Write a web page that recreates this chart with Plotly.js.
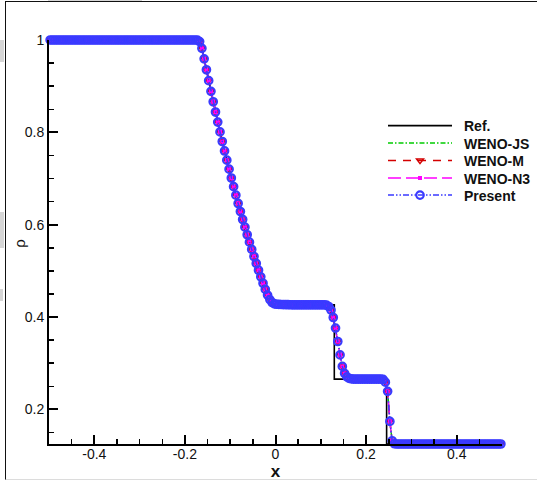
<!DOCTYPE html>
<html>
<head>
<meta charset="utf-8">
<script src="https://cdn.plot.ly/plotly-3.0.1.min.js"></script>
<style>
  html, body { margin: 0; padding: 0; background: #fff; }
  #wrap { position: relative; width: 537px; height: 481px; overflow: hidden; background: #fff; }
  #frame { position: absolute; left: 5px; top: 1px; width: 540px; height: 477px;
           border-left: 1.5px solid #111; border-top: 1.5px solid #111; border-bottom: 1px solid #dcdcdc; }
  .blot { position: absolute; background: #d6d6d6; }
  #chart { position: absolute; left: 0; top: 0; width: 537px; height: 481px; }
</style>
</head>
<body>
<div id="wrap">
  <div id="frame"></div>
  <div class="blot" style="left:0;top:40px;width:4px;height:22px;"></div>
  <div class="blot" style="left:0;top:212px;width:4px;height:36px;"></div>
  <div class="blot" style="left:0;top:289px;width:3px;height:12px;"></div>
  <div class="blot" style="left:48px;top:0;width:94px;height:1px;"></div>
  <div id="chart"></div>
</div>
<script>
// Reference (exact) solution polyline
const refX = [-0.5, -0.1657, -0.15, -0.125, -0.1, -0.075, -0.05, -0.025, -0.0098, 0.1298, 0.1298, 0.2453, 0.2453, 0.5];
const refRho = [1, 1, 0.9237, 0.8116, 0.7105, 0.6199, 0.5387, 0.4663, 0.4263, 0.4263, 0.2656, 0.2656, 0.125, 0.125];

// Numerical solution grid (cell centres) and density
const xNum = [
-0.4975,-0.4925,-0.4875,-0.4825,-0.4775,-0.4725,-0.4675,-0.4625,-0.4575,-0.4525,
-0.4475,-0.4425,-0.4375,-0.4325,-0.4275,-0.4225,-0.4175,-0.4125,-0.4075,-0.4025,
-0.3975,-0.3925,-0.3875,-0.3825,-0.3775,-0.3725,-0.3675,-0.3625,-0.3575,-0.3525,
-0.3475,-0.3425,-0.3375,-0.3325,-0.3275,-0.3225,-0.3175,-0.3125,-0.3075,-0.3025,
-0.2975,-0.2925,-0.2875,-0.2825,-0.2775,-0.2725,-0.2675,-0.2625,-0.2575,-0.2525,
-0.2475,-0.2425,-0.2375,-0.2325,-0.2275,-0.2225,-0.2175,-0.2125,-0.2075,-0.2025,
-0.1975,-0.1925,-0.1875,-0.1825,-0.1775,-0.1725,-0.1675,-0.1625,-0.1575,-0.1525,
-0.1475,-0.1425,-0.1375,-0.1325,-0.1275,-0.1225,-0.1175,-0.1125,-0.1075,-0.1025,
-0.0975,-0.0925,-0.0875,-0.0825,-0.0775,-0.0725,-0.0675,-0.0625,-0.0575,-0.0525,
-0.0475,-0.0425,-0.0375,-0.0325,-0.0275,-0.0225,-0.0175,-0.0125,-0.0075,-0.0025,
0.0025,0.0075,0.0125,0.0175,0.0225,0.0275,0.0325,0.0375,0.0425,0.0475,
0.0525,0.0575,0.0625,0.0675,0.0725,0.0775,0.0825,0.0875,0.0925,0.0975,
0.1025,0.1075,0.1125,0.1175,0.1225,0.1275,0.1325,0.1375,0.1425,0.1475,
0.1525,0.1575,0.1625,0.1675,0.1725,0.1775,0.1825,0.1875,0.1925,0.1975,
0.2025,0.2075,0.2125,0.2175,0.2225,0.2275,0.2325,0.2375,0.2425,0.2475,
0.2525,0.2575,0.2625,0.2675,0.2725,0.2775,0.2825,0.2875,0.2925,0.2975,
0.3025,0.3075,0.3125,0.3175,0.3225,0.3275,0.3325,0.3375,0.3425,0.3475,
0.3525,0.3575,0.3625,0.3675,0.3725,0.3775,0.3825,0.3875,0.3925,0.3975,
0.4025,0.4075,0.4125,0.4175,0.4225,0.4275,0.4325,0.4375,0.4425,0.4475,
0.4525,0.4575,0.4625,0.4675,0.4725,0.4775,0.4825,0.4875,0.4925,0.4975];

const rhoNum = [
1,1,1,1,1,1,1,1,1,1,
1,1,1,1,1,1,1,1,1,1,
1,1,1,1,1,1,1,1,1,1,
1,1,1,1,1,1,1,1,1,1,
1,1,1,1,1,1,1,1,1,1,
1,1,1,1,1,1,1,1,1,1,
1,1,1,1,1,0.9998,0.9965,0.9820,0.9592,0.9355,
0.9120,0.8888,0.8662,0.8440,0.8222,0.8009,0.7801,0.7597,0.7397,0.7202,
0.7010,0.6823,0.6640,0.6460,0.6285,0.6113,0.5946,0.5782,0.5621,0.5464,
0.5311,0.5161,0.5014,0.4871,0.4732,0.4598,0.4475,0.4378,0.4315,0.4287,
0.4277,0.4273,0.4271,0.4269,0.4268,0.4267,0.4266,0.4265,0.4265,0.4264,
0.4264,0.4264,0.4264,0.4264,0.4264,0.4264,0.4264,0.4264,0.4264,0.4264,
0.4264,0.4264,0.4258,0.4228,0.4150,0.3990,0.3760,0.3470,0.3180,0.2930,
0.2780,0.2705,0.2672,0.2662,0.2657,0.2657,0.2657,0.2657,0.2657,0.2657,
0.2657,0.2657,0.2657,0.2657,0.2657,0.2657,0.2657,0.2648,0.2590,0.2390,
0.1740,0.1320,0.1255,0.125,0.125,0.125,0.125,0.125,0.125,0.125,
0.125,0.125,0.125,0.125,0.125,0.125,0.125,0.125,0.125,0.125,
0.125,0.125,0.125,0.125,0.125,0.125,0.125,0.125,0.125,0.125,
0.125,0.125,0.125,0.125,0.125,0.125,0.125,0.125,0.125,0.125,
0.125,0.125,0.125,0.125,0.125,0.125,0.125,0.125,0.125,0.125];

const seriesNames = ['Ref.', 'WENO-JS', 'WENO-M', 'WENO-N3', 'Present'];
const xTickVals = [-0.4, -0.2, 0, 0.2, 0.4];
const yTickVals = [0.2, 0.4, 0.6, 0.8, 1];

const FONT = 'Liberation Sans, Arial, Helvetica, sans-serif';
const GAP = '\u2002';

const traces = [
  { x: refX, y: refRho, name: GAP + seriesNames[0], mode: 'lines', legend: 'legend',
    line: { color: '#000000', width: 1.6 }, cliponaxis: false },
  { x: xNum, y: rhoNum, name: GAP + seriesNames[1], mode: 'lines', legend: 'legend2',
    line: { color: '#00cc00', width: 1.5, dash: '5px,2px,1.5px,2px' }, cliponaxis: false },
  { x: xNum, y: rhoNum, name: GAP + seriesNames[2], mode: 'lines+markers', legend: 'legend3',
    line: { color: '#d40000', width: 1.5, dash: '8px,7px' },
    marker: { symbol: 'triangle-down-open', size: 6, color: '#d40000', line: { width: 1.5 } }, cliponaxis: false },
  { x: xNum, y: rhoNum, name: GAP + seriesNames[3], mode: 'lines+markers', legend: 'legend4',
    line: { color: '#ff00ff', width: 1.5, dash: '13px,5px' },
    marker: { symbol: 'square', size: 4, color: '#ff00ff' }, cliponaxis: false },
  { x: xNum, y: rhoNum, name: GAP + seriesNames[4], mode: 'lines+markers', legend: 'legend5',
    line: { color: '#3a3aff', width: 1.5, dash: '6px,2px,1.5px,2px,1.5px,2px' },
    marker: { symbol: 'circle-open', size: 7.5, color: '#3a3aff', line: { width: 2.2 } }, cliponaxis: false }
];

const axisCommon = {
  showgrid: false, zeroline: false, showline: true, linecolor: '#000', linewidth: 2,
  ticks: 'inside', ticklen: 9, tickwidth: 2, tickcolor: '#000',
  tickfont: { family: FONT, size: 14, color: '#111' },
  layer: 'above traces', automargin: false,
  minor: { ticks: 'inside', ticklen: 5, tickwidth: 1.5, tickcolor: '#000', dtick: 0.05, showgrid: false }
};

function legendAt(py) {
  return {
    x: (383 - 49) / 453, y: 1 - (py - 40) / 404, xanchor: 'left', yanchor: 'middle',
    bgcolor: 'rgba(0,0,0,0)', borderwidth: 0,
    font: { family: FONT, size: 14, color: '#111', weight: 'bold' },
    itemwidth: 64
  };
}

const layout = {
  width: 537, height: 481,
  margin: { l: 49, r: 35, t: 40, b: 37, autoexpand: false },
  paper_bgcolor: 'rgba(0,0,0,0)', plot_bgcolor: 'rgba(0,0,0,0)',
  showlegend: true,
  xaxis: Object.assign({}, axisCommon, {
    range: [-0.5, 0.5], tickvals: xTickVals, ticktext: xTickVals.map(String),
    ticklabelstandoff: -4,
    title: { text: '<b>x</b>', font: { family: FONT, size: 17, color: '#111' }, standoff: 0 }
  }),
  yaxis: Object.assign({}, axisCommon, {
    range: [0.125, 1], tickvals: yTickVals, ticktext: yTickVals.map(String)
  }),
  annotations: [{
    text: 'ρ', xref: 'paper', yref: 'paper', x: (19.5 - 49) / 453, y: 0.497,
    xanchor: 'center', yanchor: 'middle', textangle: -90, showarrow: false,
    font: { family: FONT, size: 15, color: '#111' }
  }],
  legend: legendAt(126),
  legend2: legendAt(143.5),
  legend3: legendAt(161),
  legend4: legendAt(178.5),
  legend5: legendAt(195.5)
};

Plotly.newPlot('chart', traces, layout, { staticPlot: true, displayModeBar: false });
</script>
</body>
</html>
